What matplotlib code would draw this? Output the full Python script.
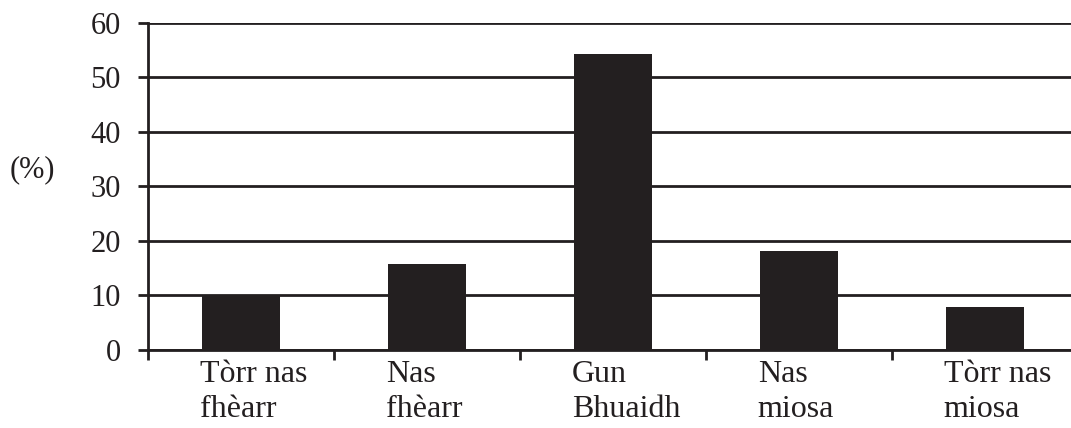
import numpy as np
import matplotlib
matplotlib.use('Agg')
import matplotlib.pyplot as plt
import matplotlib.transforms as mtransforms

categories = ['Tòrr nas\nfhèarr', 'Nas\nfhèarr', 'Gun\nBhuaidh', 'Nas\nmiosa', 'Tòrr nas\nmiosa']
values = [10.0, 15.7, 54.3, 18.1, 7.9]
y_ticks = [0, 10, 20, 30, 40, 50, 60]

plt.rcParams['font.family'] = ['Liberation Serif', 'DejaVu Serif']

fig = plt.figure(figsize=(10.71, 4.28), dpi=100)
ax = fig.add_axes([148 / 1071, 1 - 350 / 428, 930 / 1071, (350 - 22.7) / 428])

dark = '#231f20'
x = np.arange(len(categories))
bar_w = 0.42
ax.bar(x, values, width=bar_w, color=dark, zorder=3)

ax.set_xlim(-0.5, len(categories) - 0.5)
ax.set_ylim(0, 60)
ax.set_yticks(y_ticks)
ax.set_xticks(np.arange(len(categories) + 1) - 0.5)
ax.set_xticklabels([])
ax.yaxis.grid(True, color=dark, linewidth=2, zorder=1)
ax.set_axisbelow(True)

for side in ['top', 'right']:
    ax.spines[side].set_visible(False)
ax.spines['left'].set_linewidth(2)
ax.spines['bottom'].set_linewidth(2)
ax.spines['left'].set_color(dark)
ax.spines['bottom'].set_color(dark)
ax.tick_params(axis='both', direction='out', length=7.5, width=2, color=dark)
ax.tick_params(axis='y', labelsize=22, pad=12, labelcolor=dark)

trans = mtransforms.blended_transform_factory(ax.transData, ax.transAxes)
for xi, lab in zip(x, categories):
    ax.text(xi - bar_w / 2 - 0.012, -0.032, lab, transform=trans, ha='left', va='top',
            fontsize=23, color=dark, linespacing=1.25)

fig.text(10 / 1071, 1 - 170 / 428, '(%)', fontsize=22, color=dark, ha='left', va='center')

fig.savefig('out.png', dpi=100)
